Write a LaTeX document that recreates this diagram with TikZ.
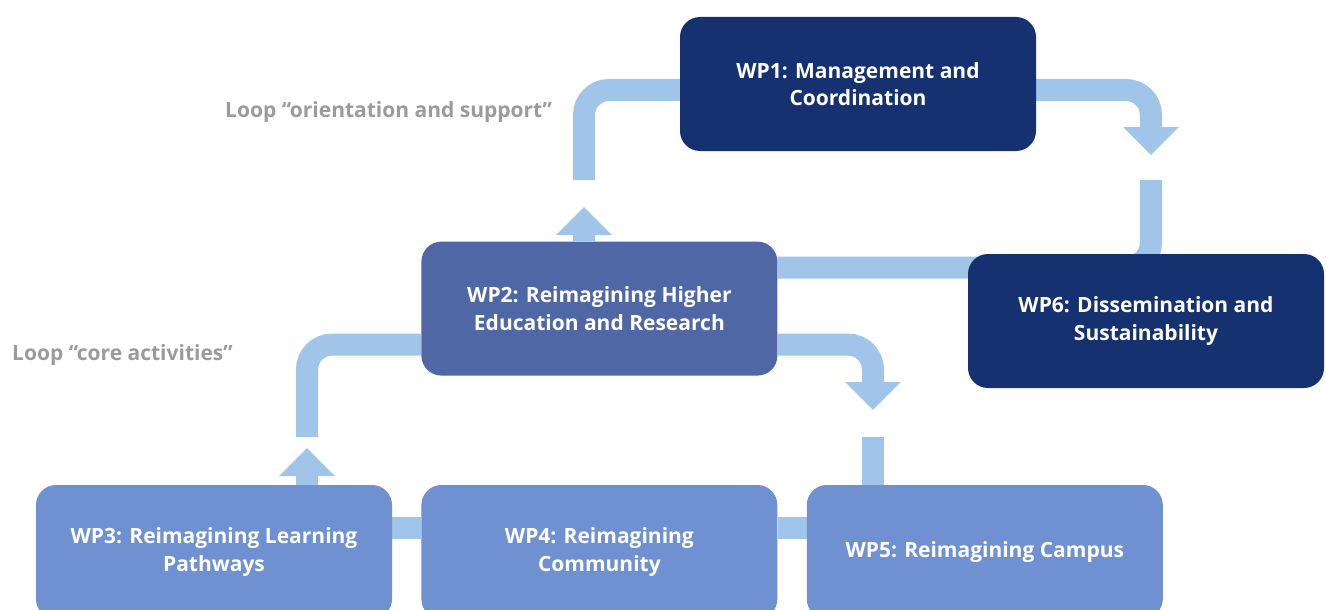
\documentclass[tikz,border=0pt]{standalone}
\usepackage{fontspec}
\setmainfont{Open Sans}
\usepackage{tikz}
\usetikzlibrary{arrows.meta, positioning, backgrounds}
\definecolor{navy}{HTML}{15316F}
\definecolor{midblue}{HTML}{4F67A5}
\definecolor{softblue}{HTML}{6F90D1}
\definecolor{flowblue}{HTML}{A0C5E8}
\definecolor{loopgray}{HTML}{9B9B9B}

\begin{document}
\begin{tikzpicture}[
        x=1pt, y=-1pt, node distance=29pt,
        wp/.style={rounded corners=20pt, minimum width=356pt, minimum height=134pt,
                   align=center, text=white, inner sep=0pt,
                   font=\bfseries\fontsize{21}{27.5}\selectfont},
        looplabel/.style={text=loopgray, inner sep=0pt,
                   font=\bfseries\fontsize{21}{27.5}\selectfont},
        flow/.style={draw=flowblue, line width=22pt, rounded corners=25pt},
        flowtip/.style={flow, -{Triangle[width=54pt,length=28pt]}}
        ]
        \useasboundingbox (0,0) rectangle (1326,610);

        \node[wp, fill=navy]                      (wp_1) at (858,84)   {WP1: Management and\\Coordination};
        \node[wp, fill=navy]                      (wp_6) at (1146,321) {WP6: Dissemination and\\Sustainability};
        \node[wp, fill=softblue]                  (wp_3) at (214,552)  {WP3: Reimagining Learning\\Pathways};
        \node[wp, fill=softblue] [right=of wp_3]  (wp_4)               {WP4: Reimagining\\Community};
        \node[wp, fill=softblue] [right=of wp_4]  (wp_5)               {WP5: Reimagining Campus};
        \node[wp, fill=midblue]  [above=109pt of wp_4] (wp_2)          {WP2: Reimagining Higher\\Education and Research};

        \node[looplabel, anchor=west] (loop_top)  at (225,112) {Loop “orientation and support”};
        \node[looplabel, anchor=west] (loop_core) at (12,355)  {Loop “core activities”};

        \coordinate (top_tip)     at (584,207);
        \coordinate (top_start)   at (584,180);
        \coordinate (right_tip)   at (1151,155);
        \coordinate (right_start) at (1151,180);
        \coordinate (core_tip)    at (307,448);
        \coordinate (core_start)  at (307,437);
        \coordinate (mid_tip)     at (873,410);
        \coordinate (mid_start)   at (873,437);

        \begin{scope}[on background layer]
          \draw[flowtip] (wp_2.north -| top_tip) -- (top_tip);
          \draw[flow] (top_start) |- ([yshift=-6pt]wp_1.west);
          \draw[flowtip] ([yshift=-6pt]wp_1.east) -| (right_tip);
          \draw[flow] (right_start) |- ([yshift=41pt]wp_2.east);

          \draw[flowtip] (wp_3.north -| core_tip) -- (core_tip);
          \draw[flow] (core_start) |- ([yshift=-36pt]wp_2.west);
          \draw[flowtip] ([yshift=-36pt]wp_2.east) -| (mid_tip);
          \draw[flow] (mid_start) -- (wp_5.north -| mid_start);

          \draw[flow] ([yshift=24pt]wp_3.east) -- ([yshift=24pt]wp_4.west);
          \draw[flow] ([yshift=24pt]wp_4.east) -- ([yshift=24pt]wp_5.west);
        \end{scope}
      \end{tikzpicture}
\end{document}
